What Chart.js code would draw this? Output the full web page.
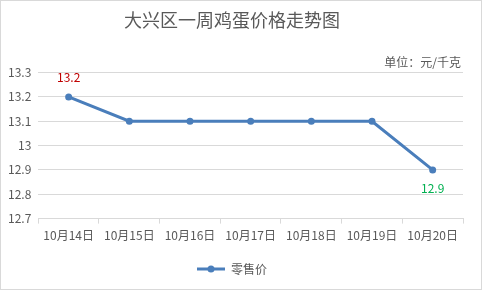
<!DOCTYPE html>
<html lang="zh">
  <head>
    <meta charset="utf-8" />
    <title>大兴区一周鸡蛋价格走势图</title>
    <style>
      * {
        margin: 0;
        padding: 0;
      }
      body {
        background: #fff;
      }
      .chartBox {
        width: 482px;
        height: 290px;
        box-sizing: border-box;
        border: 1px solid #d9d9d9;
        background: #fff;
      }
    </style>
  </head>
  <body>
    <div class="chartBox">
      <canvas id="myChart" width="480" height="288"></canvas>
    </div>

    <script src="https://cdn.jsdelivr.net/npm/chart.js"></script>

    <script>
      // data
      const days = ["10月14日", "10月15日", "10月16日", "10月17日", "10月18日", "10月19日", "10月20日"];
      const prices = [13.2, 13.1, 13.1, 13.1, 13.1, 13.1, 12.9];
      const yTicks = [12.7, 12.8, 12.9, 13, 13.1, 13.2, 13.3];
      const seriesName = "零售价";
      const unitText = "单位：元/千克";

      const FONT = "'Noto Sans CJK SC', 'Liberation Sans', sans-serif";
      const GREY = "#595959";
      const BLUE = "#4a7ebb";

      // legend symbol: line with a dot in the middle
      const legendIcon = document.createElement("canvas");
      legendIcon.width = 28;
      legendIcon.height = 8;
      {
        const c = legendIcon.getContext("2d");
        c.strokeStyle = BLUE;
        c.lineWidth = 3;
        c.beginPath();
        c.moveTo(0, 4);
        c.lineTo(28, 4);
        c.stroke();
        c.fillStyle = BLUE;
        c.beginPath();
        c.arc(14, 4, 3.5, 0, Math.PI * 2);
        c.fill();
      }

      // labels on first / last points + unit text
      const extras = {
        id: "extras",
        afterDatasetsDraw(chart) {
          const { ctx, chartArea } = chart;
          const meta = chart.getDatasetMeta(0);
          ctx.save();
          ctx.font = "12px " + FONT;
          ctx.textAlign = "center";
          ctx.textBaseline = "middle";
          const first = meta.data[0];
          ctx.fillStyle = "#c00000";
          ctx.fillText(String(prices[0]), first.x, first.y - 19);
          const last = meta.data[meta.data.length - 1];
          ctx.fillStyle = "#00b050";
          ctx.fillText(String(prices[prices.length - 1]), last.x, last.y + 19);

          ctx.fillStyle = GREY;
          ctx.textAlign = "right";
          ctx.fillText(unitText, chartArea.right - 2, chartArea.top - 10);
          ctx.restore();
        },
      };

      const config = {
        type: "line",
        data: {
          labels: days,
          datasets: [
            {
              label: seriesName,
              data: prices,
              borderColor: BLUE,
              backgroundColor: BLUE,
              borderWidth: 3,
              pointRadius: 3.5,
              pointBackgroundColor: BLUE,
              pointBorderWidth: 0,
              tension: 0,
            },
          ],
        },
        options: {
          responsive: false,
          animation: false,
          layout: { padding: { left: 0, right: 18, top: 0, bottom: 4 } },
          plugins: {
            title: {
              display: true,
              text: "大兴区一周鸡蛋价格走势图",
              color: GREY,
              font: { family: FONT, size: 18, weight: "normal" },
              padding: { top: 8, bottom: 42 },
            },
            legend: {
              position: "bottom",
              labels: {
                color: GREY,
                font: { family: FONT, size: 12 },
                usePointStyle: true,
                pointStyleWidth: 28,
                boxHeight: 8,
                padding: 15,
                generateLabels(chart) {
                  return [
                    {
                      text: seriesName,
                      pointStyle: legendIcon,
                      fontColor: GREY,
                      datasetIndex: 0,
                    },
                  ];
                },
              },
            },
            tooltip: { enabled: false },
          },
          scales: {
            x: {
              offset: true,
              grid: {
                offset: true,
                drawOnChartArea: false,
                tickLength: 5,
                color: "#d9d9d9",
              },
              border: { color: "#d9d9d9" },
              ticks: {
                color: GREY,
                font: { family: FONT, size: 12 },
                maxRotation: 0,
                padding: 5,
              },
            },
            y: {
              min: 12.7,
              max: 13.3,
              afterBuildTicks(axis) {
                axis.ticks = yTicks.map((v) => ({ value: v }));
              },
              grid: { color: "#d9d9d9", drawTicks: false },
              border: { display: false },
              ticks: {
                color: GREY,
                font: { family: FONT, size: 12 },
                padding: 7,
                callback: (v) => String(Number(v.toFixed(1))),
              },
            },
          },
        },
        plugins: [extras],
      };

      const myChart = new Chart(document.getElementById("myChart"), config);
    </script>
  </body>
</html>
